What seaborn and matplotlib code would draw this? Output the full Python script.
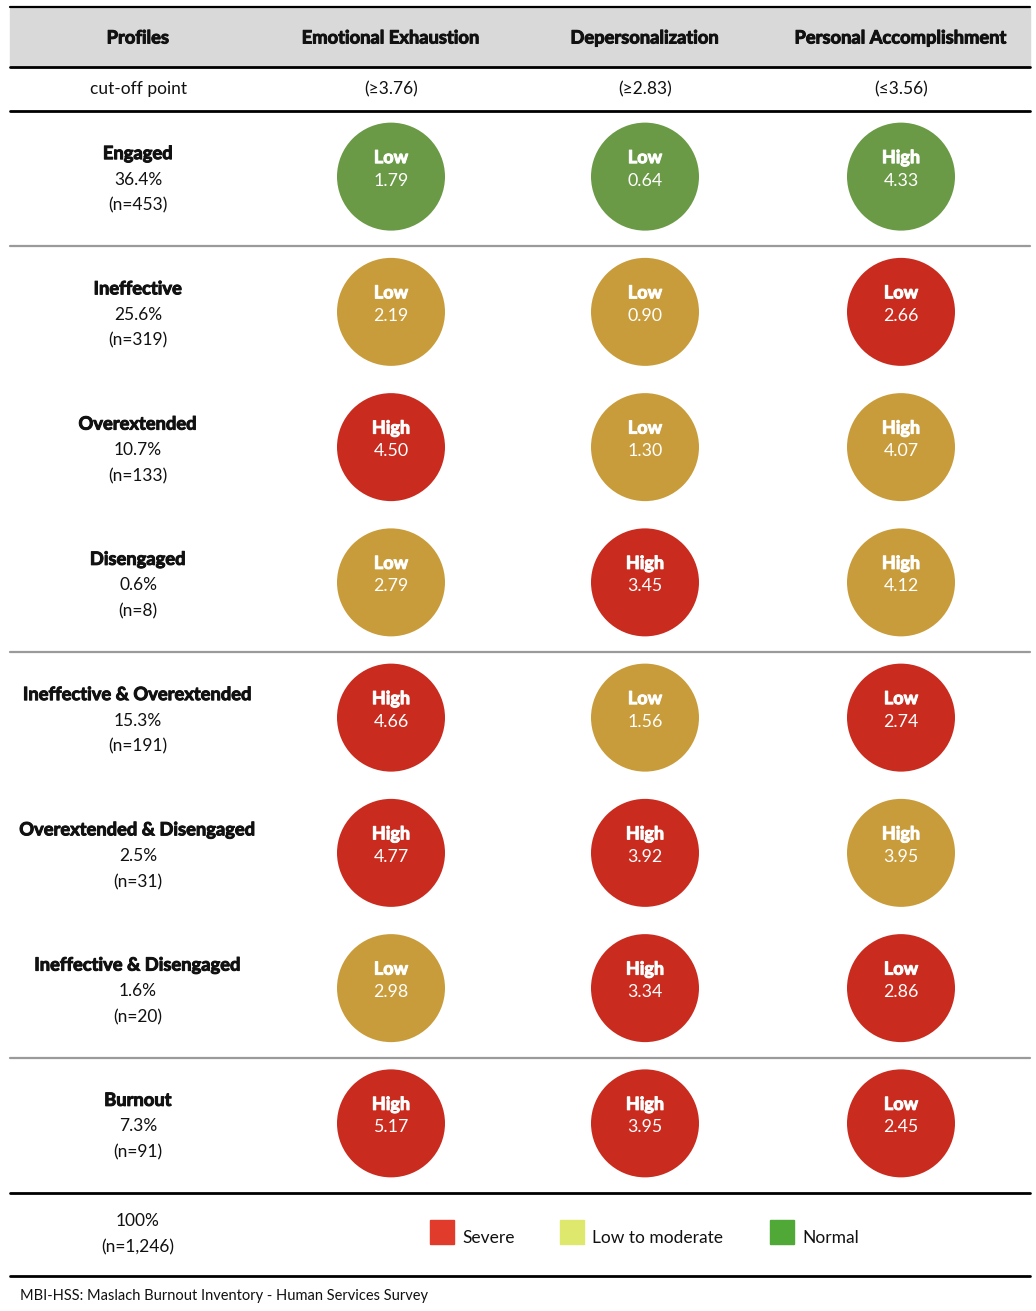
import numpy as np
import pandas as pd
import matplotlib.pyplot as plt
import matplotlib.patheffects as pe
import seaborn as sns
from matplotlib.patches import Rectangle

sns.set_theme(style="white")
plt.rcParams['font.family'] = ['Lato', 'DejaVu Sans']

# Data
dimensions = ['Emotional Exhaustion', 'Depersonalization', 'Personal Accomplishment']
cutoffs = ['(≥3.76)', '(≥2.83)', '(≤3.56)']
profiles = ['Engaged', 'Ineffective', 'Overextended', 'Disengaged',
            'Ineffective & Overextended', 'Overextended & Disengaged',
            'Ineffective & Disengaged', 'Burnout']
shares = ['36.4%', '25.6%', '10.7%', '0.6%', '15.3%', '2.5%', '1.6%', '7.3%']
counts = ['(n=453)', '(n=319)', '(n=133)', '(n=8)', '(n=191)', '(n=31)', '(n=20)', '(n=91)']
ee_values = [1.79, 2.19, 4.50, 2.79, 4.66, 4.77, 2.98, 5.17]
dp_values = [0.64, 0.90, 1.30, 3.45, 1.56, 3.92, 3.34, 3.95]
pa_values = [4.33, 2.66, 4.07, 4.12, 2.74, 3.95, 2.86, 2.45]
ee_levels = ['Low', 'Low', 'High', 'Low', 'High', 'High', 'Low', 'High']
dp_levels = ['Low', 'Low', 'Low', 'High', 'Low', 'High', 'High', 'High']
pa_levels = ['High', 'Low', 'High', 'High', 'Low', 'High', 'Low', 'Low']
ee_status = ['Normal', 'Moderate', 'Severe', 'Moderate', 'Severe', 'Severe', 'Moderate', 'Severe']
dp_status = ['Normal', 'Moderate', 'Moderate', 'Severe', 'Moderate', 'Severe', 'Severe', 'Severe']
pa_status = ['Normal', 'Severe', 'Moderate', 'Moderate', 'Severe', 'Moderate', 'Severe', 'Severe']
group_breaks = [0, 3, 6]  # gray rule drawn after these profile rows
total_share = '100%'
total_count = '(n=1,246)'
legend_labels = ['Severe', 'Low to moderate', 'Normal']
footnote = 'MBI-HSS: Maslach Burnout Inventory - Human Services Survey'

circle_colors = {'Normal': '#6a9a46', 'Moderate': '#c99c3b', 'Severe': '#c92b1e'}
legend_colors = ['#e03b2b', '#dde86c', '#50a836']

# Layout (pixel space)
W, H = 1036, 1311
x_left, x_right = 10, 1030
col_x = [138, 391, 645, 901]
row_top = 111
row_h = (1193 - 111) / 8
row_y = [row_top + row_h * (i + 0.5) for i in range(len(profiles))]

heavy_dark = [pe.withStroke(linewidth=0.7, foreground='#111111')]
heavy_white = [pe.withStroke(linewidth=0.7, foreground='white')]

df = pd.concat([
    pd.DataFrame({'profile': profiles, 'dim': dimensions[0], 'value': ee_values,
                  'level': ee_levels, 'status': ee_status}),
    pd.DataFrame({'profile': profiles, 'dim': dimensions[1], 'value': dp_values,
                  'level': dp_levels, 'status': dp_status}),
    pd.DataFrame({'profile': profiles, 'dim': dimensions[2], 'value': pa_values,
                  'level': pa_levels, 'status': pa_status}),
], ignore_index=True)
df['x'] = df['dim'].map({d: col_x[i + 1] for i, d in enumerate(dimensions)})
df['y'] = df['profile'].map({p: row_y[i] - 2 for i, p in enumerate(profiles)})

fig = plt.figure(figsize=(W / 100, H / 100), dpi=100)
ax = fig.add_axes([0, 0, 1, 1])

# circles
diam_pt = 108 * 72 / 100
sns.scatterplot(data=df, x='x', y='y', hue='status', palette=circle_colors,
                s=diam_pt ** 2, linewidth=0, legend=False, ax=ax, zorder=3)
ax.set_xlim(0, W)
ax.set_ylim(H, 0)
ax.axis('off')

# header band and rules
ax.add_patch(Rectangle((x_left, 8), x_right - x_left, 59, color='#d9d9d9', zorder=0))
ax.plot([x_left, x_right], [7, 7], color='black', lw=1.6)
for yy in [67, 111, 1193, 1276]:
    ax.plot([x_left, x_right], [yy, yy], color='black', lw=2.0)
for g in group_breaks:
    yy = row_top + row_h * (g + 1)
    ax.plot([x_left, x_right], [yy, yy], color='#9a9a9a', lw=1.6)

# header text
for x, t in zip(col_x, ['Profiles'] + dimensions):
    ax.text(x, 38, t, ha='center', va='center', fontsize=13.2, fontweight='bold',
            color='#111111', path_effects=heavy_dark)
for x, t in zip(col_x, ['cut-off point'] + cutoffs):
    ax.text(x, 89, t, ha='center', va='center', fontsize=12.5, color='#111111')

# profile labels
for y, p, s, c in zip(row_y, profiles, shares, counts):
    ax.text(col_x[0], y - 25, p, ha='center', va='center', fontsize=13.2, fontweight='bold',
            color='#111111', path_effects=heavy_dark)
    ax.text(col_x[0], y + 1, s, ha='center', va='center', fontsize=12.5, color='#111111')
    ax.text(col_x[0], y + 27, c, ha='center', va='center', fontsize=12.5, color='#111111')

for _, r in df.iterrows():
    ax.text(r['x'], r['y'] - 19, r['level'], ha='center', va='center', color='white',
            fontsize=13, fontweight='bold', zorder=4, path_effects=heavy_white)
    ax.text(r['x'], r['y'] + 4, f"{r['value']:.2f}", ha='center', va='center',
            color='white', fontsize=12.8, zorder=4)

# total row
ax.text(col_x[0], 1221, total_share, ha='center', va='center', fontsize=12.5, color='#111111')
ax.text(col_x[0], 1247, total_count, ha='center', va='center', fontsize=12.5, color='#111111')

# legend
for x0, lab, c in zip([430, 560, 770], legend_labels, legend_colors):
    ax.add_patch(Rectangle((x0, 1220), 24, 24, color=c, zorder=3))
    ax.text(x0 + 32, 1238, lab, ha='left', va='center', fontsize=12.5, color='#111111')

ax.text(20, 1296, footnote, ha='left', va='center', fontsize=10.5, color='#111111')

fig.savefig('out.png', dpi=100)
